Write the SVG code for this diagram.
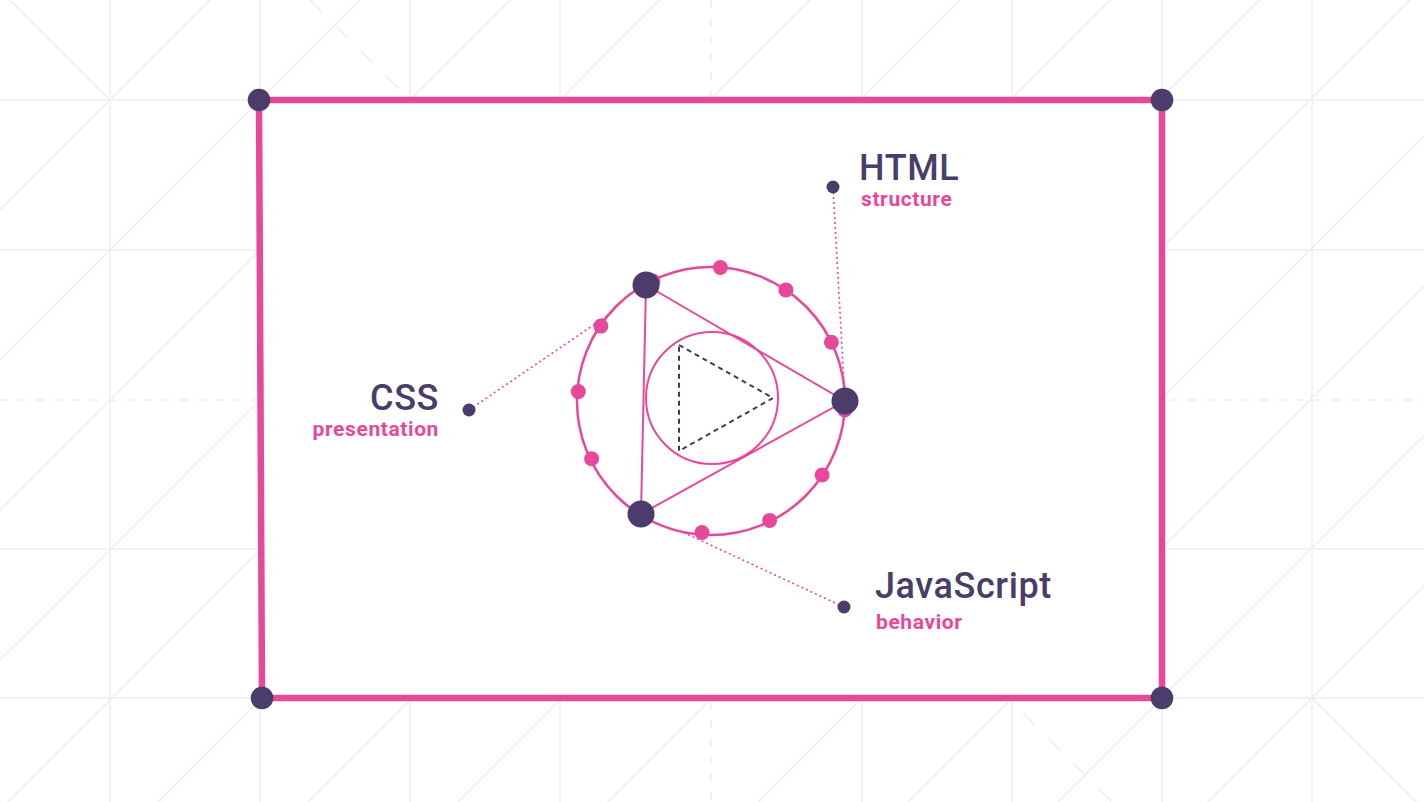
<svg xmlns="http://www.w3.org/2000/svg" width="1424" height="802" viewBox="0 0 1424 802">
<style>
.g{stroke:#EDEDF3;stroke-width:1.5;fill:none}
.gd{stroke:#EDEDF3;stroke-width:1.5;fill:none;stroke-dasharray:8 10}
.gdd{stroke:#EDEDF3;stroke-width:1.5;fill:none;stroke-dasharray:17 19}
.frame{fill:#FFFFFF;stroke:#E8489A;stroke-width:6.5;stroke-linejoin:miter}
.dark{fill:#4B3C6C}
.pk{fill:#E8489A}
.pl{stroke:#E8489A;fill:none}
.con{stroke:#E8489A;stroke-width:1.6;fill:none;stroke-dasharray:2 3}
.title{font-family:Roboto,"Liberation Sans",sans-serif;font-size:36px;font-weight:500;fill:#4A3D6A;letter-spacing:0.6px}
.sub{font-family:Roboto,"Liberation Sans",sans-serif;font-size:21px;font-weight:bold;fill:#E8489A;letter-spacing:0.6px}
</style>
<rect x="0" y="0" width="1424" height="802" fill="#FFFFFF"/>
<g id="grid">
<line class="g" x1="110" y1="0" x2="110" y2="802"/>
<line class="g" x1="260" y1="0" x2="260" y2="802"/>
<line class="g" x1="410" y1="0" x2="410" y2="802"/>
<line class="g" x1="560" y1="0" x2="560" y2="802"/>
<line class="gd" x1="711" y1="0" x2="711" y2="802"/>
<line class="g" x1="862" y1="0" x2="862" y2="802"/>
<line class="g" x1="1012" y1="0" x2="1012" y2="802"/>
<line class="g" x1="1162" y1="0" x2="1162" y2="802"/>
<line class="g" x1="1312" y1="0" x2="1312" y2="802"/>
<line class="g" x1="0" y1="100" x2="1424" y2="100"/>
<line class="g" x1="0" y1="250" x2="1424" y2="250"/>
<line class="gd" x1="0" y1="400" x2="1424" y2="400"/>
<line class="g" x1="0" y1="549" x2="1424" y2="549"/>
<line class="g" x1="0" y1="698" x2="1424" y2="698"/>
<line class="g" x1="0" y1="210" x2="210" y2="0"/>
<line class="g" x1="0" y1="360" x2="360" y2="0"/>
<line class="g" x1="0" y1="510" x2="510" y2="0"/>
<line class="g" x1="0" y1="660" x2="660" y2="0"/>
<line class="g" x1="8" y1="802" x2="810" y2="0"/>
<line class="g" x1="158" y1="802" x2="960" y2="0"/>
<line class="g" x1="308" y1="802" x2="1110" y2="0"/>
<line class="g" x1="458" y1="802" x2="1260" y2="0"/>
<line class="g" x1="608" y1="802" x2="1410" y2="0"/>
<line class="g" x1="758" y1="802" x2="1424" y2="136"/>
<line class="g" x1="908" y1="802" x2="1424" y2="286"/>
<line class="g" x1="1058" y1="802" x2="1424" y2="436"/>
<line class="g" x1="1208" y1="802" x2="1424" y2="586"/>
<line class="g" x1="10" y1="0" x2="110" y2="100"/>
<line class="g" x1="1312" y1="698" x2="1416" y2="802"/>
<line class="gdd" x1="310" y1="0" x2="1112" y2="802"/>
</g>
<g id="frame">
<polygon class="frame" points="259,100 1162,100 1162,698 262,698"/>
<circle class="dark" cx="259" cy="100" r="11.3"/>
<circle class="dark" cx="1162" cy="100" r="11.3"/>
<circle class="dark" cx="262" cy="698" r="11.3"/>
<circle class="dark" cx="1162" cy="698" r="11.3"/>
</g>
<g id="connectors">
<line class="con" x1="833" y1="187" x2="845" y2="401"/>
<line class="con" x1="469" y1="410" x2="614" y2="311"/>
<line class="con" x1="844" y1="607" x2="676" y2="529"/>
</g>
<g id="core">
<circle class="pl" cx="711" cy="401" r="134" stroke-width="2.5"/>
<circle class="pl" cx="712" cy="398" r="66" stroke-width="2"/>
<polygon class="pl" points="646,285 845,401 641,514" stroke-width="2"/>
<polygon points="679,345 773,398 679,451" fill="none" stroke="#3F3A5A" stroke-width="2" stroke-dasharray="5 4"/>
<circle class="pk" cx="720.4" cy="267.5" r="7.5"/>
<circle class="pk" cx="785.9" cy="289.9" r="7.5"/>
<circle class="pk" cx="831.4" cy="342.3" r="7.5"/>
<circle class="pk" cx="844.7" cy="410" r="7.5"/>
<circle class="pk" cx="822.1" cy="475" r="7.5"/>
<circle class="pk" cx="769.7" cy="520.4" r="7.5"/>
<circle class="pk" cx="702" cy="532.5" r="7.5"/>
<circle class="pk" cx="636.1" cy="511.1" r="7.5"/>
<circle class="pk" cx="591.6" cy="458.7" r="7.5"/>
<circle class="pk" cx="578.3" cy="391.6" r="7.5"/>
<circle class="pk" cx="600.9" cy="326.1" r="7.5"/>
<circle class="pk" cx="653" cy="281" r="7.5"/>
<circle class="dark" cx="646" cy="285" r="13.5"/>
<circle class="dark" cx="845" cy="401" r="13.5"/>
<circle class="dark" cx="641" cy="514" r="13.5"/>
</g>
<g id="html">
<circle class="dark" cx="833" cy="187" r="6.5"/>
<text class="title" x="859" y="180">HTML</text>
<text class="sub" x="861" y="206">structure</text>
</g>
<g id="css">
<circle class="dark" cx="469" cy="410" r="6.5"/>
<text class="title" x="439" y="410" text-anchor="end">CSS</text>
<text class="sub" x="439" y="436" text-anchor="end">presentation</text>
</g>
<g id="js">
<circle class="dark" cx="844" cy="607" r="6.5"/>
<text class="title" x="875" y="598">JavaScript</text>
<text class="sub" x="876" y="629">behavior</text>
</g>
</svg>
